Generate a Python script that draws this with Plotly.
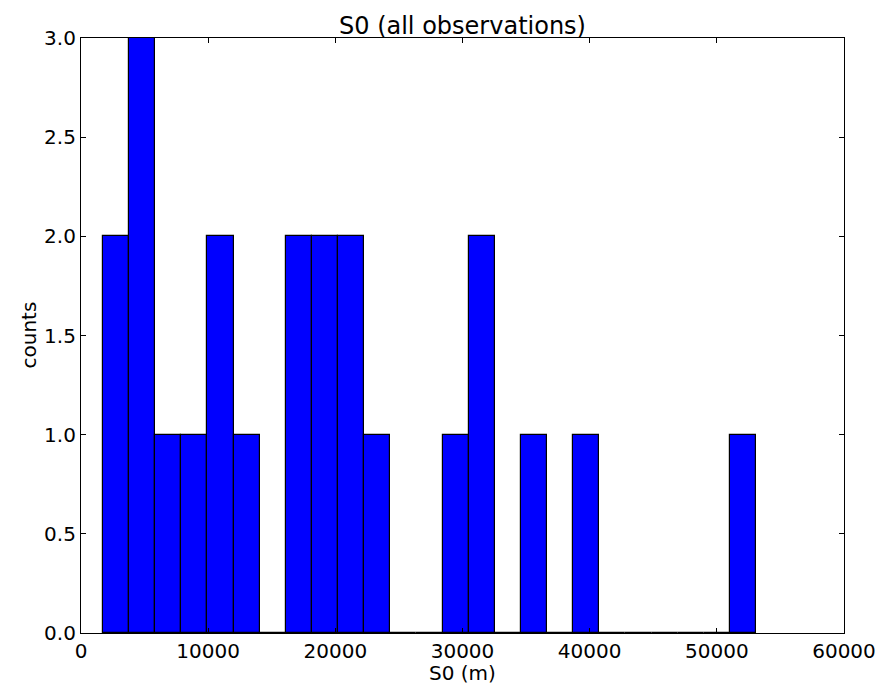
import plotly.graph_objects as go

bin_start = 1730
bin_width = 2054
counts = [2, 3, 1, 1, 2, 1, 0, 2, 2, 2, 1, 0, 0, 1, 2, 0, 1, 0, 1, 0, 0, 0, 0, 0, 1]
x_ticks = [0, 10000, 20000, 30000, 40000, 50000, 60000]
y_ticks = [0.0, 0.5, 1.0, 1.5, 2.0, 2.5, 3.0]

centers = [bin_start + bin_width * (i + 0.5) for i in range(len(counts))]

fig = go.Figure()
fig.add_trace(go.Bar(
    x=centers, y=counts, width=[bin_width] * len(counts),
    marker=dict(color="#0000ff", line=dict(color="black", width=1.2)),
    showlegend=False,
))

font = dict(family="DejaVu Sans", size=20, color="black")
fig.update_layout(
    width=892, height=684,
    margin=dict(l=81, r=48, t=38, b=51),
    paper_bgcolor="white", plot_bgcolor="white",
    bargap=0,
    font=font,
    title=dict(text="S0 (all observations)", x=0.5, xref="paper", xanchor="center",
               y=1, yref="paper", yanchor="bottom", pad=dict(b=4),
               font=dict(family="DejaVu Sans", size=24, color="black")),
    annotations=[
        dict(text="S0 (m)", xref="paper", yref="paper", x=0.5, y=0,
             xanchor="center", yanchor="middle", yshift=-40, borderpad=0,
             showarrow=False, font=font),
        dict(text="counts", xref="paper", yref="paper", x=0, y=0.5, textangle=-90,
             xanchor="center", yanchor="middle", xshift=-53, showarrow=False, font=font),
    ],
)
fig.update_xaxes(
    range=[0, 60000], tickvals=x_ticks, ticktext=[str(v) for v in x_ticks],
    ticks="inside", ticklen=5, tickcolor="black", mirror="ticks", automargin=False,
    showline=True, linecolor="black", linewidth=1.2, showgrid=False, zeroline=False,
    tickfont=font,
)
fig.update_yaxes(
    range=[0, 3], tickvals=y_ticks, ticktext=[f"{v:.1f}" for v in y_ticks],
    ticks="inside", ticklen=5, tickcolor="black", mirror="ticks", automargin=False,
    showline=True, linecolor="black", linewidth=1.2, showgrid=False, zeroline=False,
    tickfont=font,
)

fig.write_html("out.html")
